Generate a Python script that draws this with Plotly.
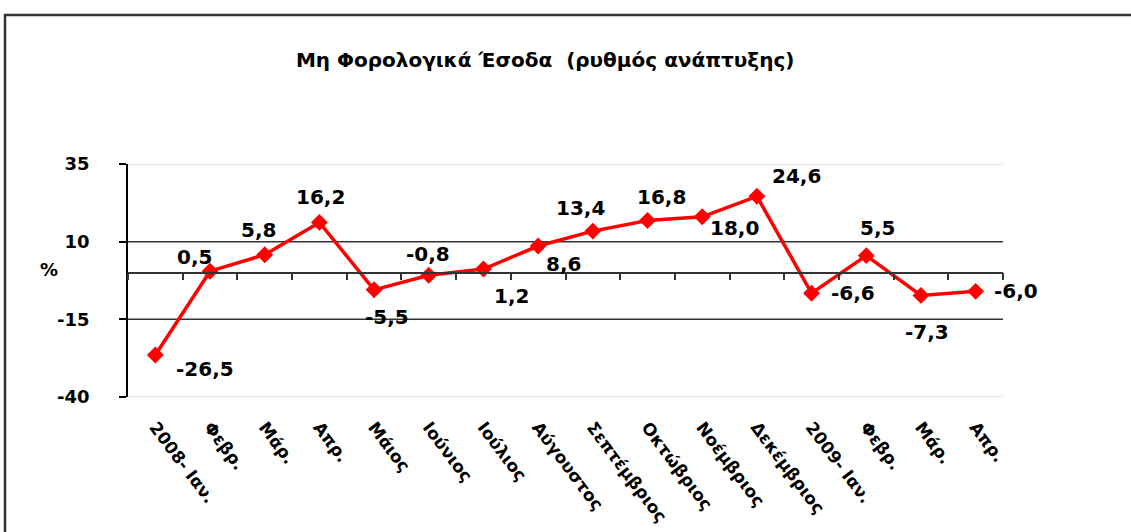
import plotly.graph_objects as go

# monthly growth rate (%) of non-tax revenue
months = ["2008- Ιαν.", "Φεβρ.", "Μάρ.", "Απρ.", "Μάιος", "Ιούνιος", "Ιούλιος",
          "Αύγουστος", "Σεπτέμβριος", "Οκτώβριος", "Νοέμβριος", "Δεκέμβριος",
          "2009- Ιαν.", "Φεβρ.", "Μάρ.", "Απρ."]
growth = [-26.5, 0.5, 5.8, 16.2, -5.5, -0.8, 1.2, 8.6, 13.4, 16.8, 18.0, 24.6,
          -6.6, 5.5, -7.3, -6.0]
y_ticks = [-40, -15, 10, 35]

# label offsets in pixels (dx, dy) relative to each marker
label_dx = [50, -16, -6, 1, 13, -1, 28, 25, -12, 14, 32, 40, 41, 11, 6, 40]
label_dy = [-14, 14, 25, 25, -27, 21, -27, -18, 23, 24, -11, 20, 0, 28, -37, 0]

FONT = "DejaVu Sans"
W, H = 1131, 532
L, R, T, B = 128, 128, 164, 135
y_lo, y_hi = min(y_ticks), max(y_ticks)
n = len(months)

fig = go.Figure()
fig.add_trace(go.Scatter(
    x=list(range(n)), y=growth, mode="lines+markers",
    line=dict(color="#ff0000", width=3.5),
    marker=dict(symbol="diamond", size=13, color="#ff0000"),
    showlegend=False, hoverinfo="skip",
))
# helper trace so the zero-line axis with its ticks gets drawn
fig.add_trace(go.Scatter(x=[None], y=[None], xaxis="x2", showlegend=False, hoverinfo="skip"))

for i, v in enumerate(growth):
    fig.add_annotation(
        x=i, y=v, xref="x", yref="y", showarrow=False,
        text=f"{v:.1f}".replace(".", ","),
        xshift=label_dx[i], yshift=label_dy[i],
        font=dict(family=FONT, size=20, color="black", weight="bold"),
    )

# gridlines: dark at inner ticks, light at the plot edges
for v in y_ticks:
    edge = v in (y_lo, y_hi)
    fig.add_shape(type="line", xref="paper", yref="y", x0=0, x1=1, y0=v, y1=v,
                  line=dict(color="#d9d9d9" if edge else "#333333", width=1.5), layer="below")

# outer chart frame
pw, ph = W - L - R, H - T - B
fig.add_shape(type="rect", xref="paper", yref="paper",
              x0=(5 - L) / pw, x1=(W + 10 - L) / pw,
              y0=-1.0, y1=(H - B - 15) / ph,
              line=dict(color="#333333", width=2.5))

fig.add_annotation(text="%", xref="paper", yref="y", x=0, y=0, xshift=-90, yshift=3,
                   showarrow=False, font=dict(family=FONT, size=18, color="black", weight="bold"))

fig.update_layout(
    width=W, height=H, margin=dict(l=L, r=R, t=T, b=B),
    paper_bgcolor="white", plot_bgcolor="white",
    title=dict(text="Μη Φορολογικά Έσοδα  (ρυθμός ανάπτυξης)", x=0.482, xanchor="center",
               y=1 - 60 / H, yanchor="middle",
               font=dict(family=FONT, size=20, color="black", weight="bold")),
    xaxis=dict(range=[-0.5, n - 0.5], tickvals=list(range(n)), ticktext=months,
               tickangle=53, ticks="", showline=False, showgrid=False, zeroline=False,
               ticklabelstandoff=16, automargin=False,
               tickfont=dict(family=FONT, size=17, color="black", weight="bold")),
    xaxis2=dict(range=[-0.5, n - 0.5], overlaying="x", anchor="free",
                position=(0 - y_lo) / (y_hi - y_lo), automargin=False,
                tickvals=[i - 0.5 for i in range(n + 1)], ticks="outside", ticklen=7,
                tickcolor="#333333", tickwidth=1.5,
                showticklabels=False, showline=True, linecolor="#333333", linewidth=1.5,
                showgrid=False, zeroline=False),
    yaxis=dict(range=[y_lo, y_hi], tickvals=y_ticks, ticktext=[str(v) for v in y_ticks],
               ticks="outside", ticklen=7, automargin=False,
               tickcolor="black", tickwidth=1.5, showline=True, linecolor="black",
               linewidth=1.5, showgrid=False, zeroline=False, ticklabelstandoff=26,
               tickfont=dict(family=FONT, size=18, color="black", weight="bold")),
)

# drop the default page margin so the chart sits at the window origin
fig.write_html("out.html", config={"displayModeBar": False},
               post_script="document.body.style.margin='0';")
